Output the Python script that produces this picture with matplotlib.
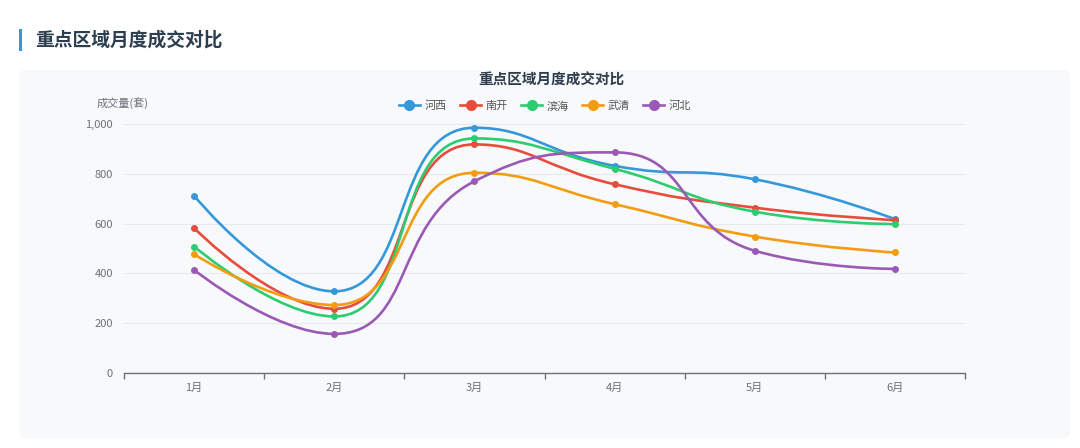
import matplotlib
matplotlib.use("Agg")
import matplotlib.pyplot as plt
import numpy as np
from matplotlib.path import Path
from matplotlib.patches import PathPatch, FancyBboxPatch, Rectangle
from matplotlib.lines import Line2D
from matplotlib.ticker import FuncFormatter

plt.rcParams['font.family'] = ['Noto Sans CJK SC', 'DejaVu Sans']

# 数据
months = ['1月', '2月', '3月', '4月', '5月', '6月']
hexi = [712, 328, 985, 832, 778, 618]
nankai = [582, 258, 918, 758, 664, 614]
binhai = [508, 227, 942, 820, 648, 598]
wuqing = [477, 273, 804, 678, 548, 484]
hebei = [414, 157, 770, 886, 491, 418]

series_names = ['河西', '南开', '滨海', '武清', '河北']
series_values = [hexi, nankai, binhai, wuqing, hebei]
colors = ['#3498db', '#e74c3c', '#2ecc71', '#f39c12', '#9b59b6']

W, H = 1080, 448
fig = plt.figure(figsize=(W / 100, H / 100), dpi=100)
fig.patch.set_facecolor('white')

# 背景层 (像素坐标)
bg = fig.add_axes([0, 0, 1, 1], zorder=0)
bg.set_xlim(0, W)
bg.set_ylim(H, 0)
bg.axis('off')
bg.add_patch(FancyBboxPatch((19, 70), 1051, 368, boxstyle='round,pad=0,rounding_size=6',
                            facecolor='#f8f9fb', edgecolor='none'))
bg.add_patch(Rectangle((19, 29), 3, 22, facecolor='#3498db', edgecolor='none'))
bg.text(35, 40, '重点区域月度成交对比', fontsize=13.5, fontweight='bold',
        color='#2c3e50', va='center', ha='left')
bg.text(551, 80, '重点区域月度成交对比', fontsize=10.5, fontweight='bold',
        color='#2f3e4e', va='center', ha='center')
bg.text(123, 103, '成交量(套)', fontsize=8, color='#6e7079', va='center', ha='center')

# 图表区
left, right, top, bottom = 124, 965, 124, 373
ax = fig.add_axes([left / W, 1 - bottom / H, (right - left) / W, (bottom - top) / H], zorder=1)
ax.set_facecolor('none')
ax.set_xlim(-0.5, 5.5)
ax.set_ylim(0, 1000)

sx = (right - left) / 6.0
sy = (bottom - top) / 1000.0


def smooth_path(xs, ys, smooth=0.5):
    # 仿 echarts 的平滑曲线, 在像素空间计算控制点
    px = [x * sx for x in xs]
    py = [y * sy for y in ys]
    n = len(px)
    verts = [(px[0], py[0])]
    codes = [Path.MOVETO]
    cpx0, cpy0 = px[0], py[0]
    for i in range(1, n):
        x, y = px[i], py[i]
        prevX, prevY = px[i - 1], py[i - 1]
        if i == n - 1:
            cpx1, cpy1 = x, y
            nx0, ny0 = x, y
        else:
            nextX, nextY = px[i + 1], py[i + 1]
            vx, vy = nextX - prevX, nextY - prevY
            lp = np.hypot(x - prevX, y - prevY)
            ln = np.hypot(nextX - x, nextY - y)
            r = ln / (ln + lp)
            nx0 = x + vx * smooth * r
            ny0 = y + vy * smooth * r
            nx0 = max(min(nx0, max(nextX, x)), min(nextX, x))
            ny0 = max(min(ny0, max(nextY, y)), min(nextY, y))
            vx, vy = nx0 - x, ny0 - y
            cpx1 = x - vx * lp / ln
            cpy1 = y - vy * lp / ln
            cpx1 = max(min(cpx1, max(prevX, x)), min(prevX, x))
            cpy1 = max(min(cpy1, max(prevY, y)), min(prevY, y))
            vx, vy = x - cpx1, y - cpy1
            nx0 = x + vx * ln / lp
            ny0 = y + vy * ln / lp
        verts += [(cpx0, cpy0), (cpx1, cpy1), (x, y)]
        codes += [Path.CURVE4] * 3
        cpx0, cpy0 = nx0, ny0
    verts = [(a / sx, b / sy) for a, b in verts]
    return Path(verts, codes)


xs = np.arange(len(months))
for name, vals, c in zip(series_names, series_values, colors):
    ax.add_patch(PathPatch(smooth_path(xs, vals), facecolor='none', edgecolor=c,
                           lw=1.9, capstyle='round', joinstyle='round', clip_on=False, zorder=3))
    ax.plot(xs, vals, 'o', color=c, markersize=4, clip_on=False, zorder=4)

# 坐标轴
for s in ['top', 'right', 'left']:
    ax.spines[s].set_visible(False)
ax.spines['bottom'].set_color('#6e7079')
ax.spines['bottom'].set_linewidth(1)
ax.set_yticks([0, 200, 400, 600, 800, 1000])
ax.yaxis.set_major_formatter(FuncFormatter(lambda v, p: f'{int(v):,}'))
ax.tick_params(axis='y', length=0, pad=8, labelsize=8, labelcolor='#6e7079')
ax.grid(axis='y', color='#e6e9ee', lw=0.8)
ax.set_axisbelow(True)
ax.set_xticks(xs)
ax.set_xticklabels(months)
ax.tick_params(axis='x', which='major', length=0, pad=7, labelsize=8, labelcolor='#6e7079')
ax.set_xticks(np.arange(-0.5, 6, 1), minor=True)
ax.tick_params(axis='x', which='minor', length=4, width=1, color='#6e7079')

# 图例
handles = [Line2D([], [], color=c, lw=1.9, marker='o', markersize=7) for c in colors]
fig.legend(handles, series_names, loc='center', bbox_to_anchor=(545 / W, 1 - 106 / H),
           ncol=5, frameon=False, fontsize=8, labelcolor='#555555', handlelength=1.9,
           handletextpad=0.4, columnspacing=1.2, borderaxespad=0)

fig.savefig('out.png', dpi=100, facecolor='white')
